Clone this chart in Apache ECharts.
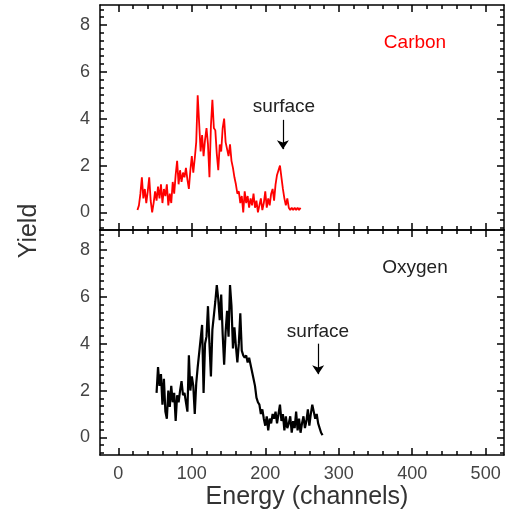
<!DOCTYPE html>
<html>
<head>
<meta charset="utf-8">
<script src="https://cdn.jsdelivr.net/npm/echarts@6/dist/echarts.min.js"></script>
<style>
  html, body { margin: 0; padding: 0; background: #fff; }
  #chart { width: 510px; height: 519px; }
</style>
</head>
<body>
<div id="chart"></div>
<script>
// carbon yield, one value every 2 channels starting at channel 26
const carbonStart = 26;
const carbonYield = [
  0.1, 0.3, 0.8, 1.5, 0.6, 1.0, 0.4, 0.9, 1.5, 0.5,
  0.0, 0.4, 0.9, 0.5, 1.1, 0.6, 1.2, 0.4, 1.0, 0.7,
  1.2, 0.3, 0.8, 0.4, 1.3, 0.8, 1.6, 2.2, 1.2, 1.8,
  1.3, 1.7, 1.5, 1.9, 1.4, 1.0, 1.8, 2.4, 1.7, 2.3,
  3.0, 5.0, 3.8, 2.6, 3.3, 2.4, 3.1, 3.6, 2.9, 1.5,
  3.7, 4.8, 3.6, 3.5, 2.5, 1.8, 2.9, 2.6, 3.6, 4.0,
  3.0, 2.7, 2.4, 2.9, 2.2, 1.9, 1.5, 1.2, 0.8, 0.9,
  0.4, 0.7, 0.0, 0.9, 0.4, 0.7, 0.2, 0.6, 0.3, 0.8,
  0.2, 0.5, 0.0, 0.3, 0.6, 0.1, 0.4, 0.9, 0.2, 0.6,
  0.3, 0.8, 1.0, 0.5, 1.2, 1.6, 1.8, 2.0, 1.5, 1.0,
  0.6, 0.3, 0.6, 0.2, 0.1, 0.2, 0.1, 0.2, 0.1, 0.2,
  0.1, 0.2
];

// oxygen yield, one value every 2 channels starting at channel 52
const oxygenStart = 52;
const oxygenYield = [
  1.9, 3.0, 2.2, 2.7, 1.4, 2.5, 1.1, 0.8, 2.0, 1.3,
  2.2, 1.5, 1.9, 0.7, 1.8, 1.5, 2.0, 2.4, 1.8, 1.9,
  1.5, 1.1, 3.5, 2.0, 2.6, 2.2, 1.0, 2.3, 3.0, 3.6,
  4.2, 4.8, 1.9, 4.0, 4.3, 5.6, 4.0, 2.6, 4.6, 5.2,
  5.8, 6.5, 5.9, 5.0, 6.1, 4.4, 3.1, 4.5, 5.4, 4.3,
  6.5, 5.6, 3.8, 4.7, 3.9, 3.2, 4.0, 5.3, 3.7, 3.5,
  3.4, 3.5, 3.2, 3.4, 3.1, 2.8, 2.5, 2.2, 1.7, 1.5,
  1.4, 1.0, 1.2, 0.8, 0.5, 0.9, 0.3, 0.8, 0.6, 1.0,
  0.8, 1.1, 0.6, 1.0, 1.4, 0.7, 1.0, 0.3, 0.9, 0.4,
  0.6, 0.9, 0.2, 0.7, 0.4, 1.1, 0.3, 0.8, 0.2, 0.6,
  0.9, 0.4, 0.7, 1.2, 0.5, 1.0, 1.4, 1.1, 0.8, 1.0,
  0.6, 0.4, 0.2, 0.1
];

// "surface" arrows: [channel, yield at tail, yield at tip]
const carbonSurfaceArrow = [224, 3.95, 2.7];
const oxygenSurfaceArrow = [272, 4.0, 2.7];

const xMajorTicks = [0, 100, 200, 300, 400, 500];
const yMajorTicks = [0, 2, 4, 6, 8];

const xMinorTicks = [];
for (let v = 20; v < 500; v += 20) if (v % 100) xMinorTicks.push(v);
const yMinorTicks = [];
for (let k = -2; k <= 26; k++) if (k % 6) yMinorTicks.push(k / 3);

const FONT = "'Liberation Sans', Arial, Helvetica, sans-serif";
const X_MIN = -25, X_MAX = 525;
const Y_MIN = -0.75, Y_MAX = 8.85;

const lineSt = { color: '#000', width: 1.5 };
const labelSt = { color: '#444', fontSize: 18, fontFamily: FONT };

function frameAxis(dim, grid, position, ticks, len, showLine, labels) {
  return {
    type: 'value',
    gridIndex: grid,
    position: position,
    min: dim === 'x' ? X_MIN : Y_MIN,
    max: dim === 'x' ? X_MAX : Y_MAX,
    splitLine: { show: false },
    axisLine: { show: showLine, onZero: false, lineStyle: lineSt },
    axisTick: { show: true, inside: true, length: len, customValues: ticks, lineStyle: lineSt },
    axisLabel: labels
      ? Object.assign({ show: true, customValues: ticks, margin: 10 }, labelSt)
      : { show: false }
  };
}

function xAxesFor(grid, withLabels) {
  return [
    frameAxis('x', grid, 'bottom', xMajorTicks, 7, true, withLabels),
    frameAxis('x', grid, 'bottom', xMinorTicks, 4, false, false),
    frameAxis('x', grid, 'top', xMajorTicks, 7, true, false),
    frameAxis('x', grid, 'top', xMinorTicks, 4, false, false)
  ];
}

function yAxesFor(grid) {
  return [
    frameAxis('y', grid, 'left', yMajorTicks, 7, true, true),
    frameAxis('y', grid, 'left', yMinorTicks, 4, false, false),
    frameAxis('y', grid, 'right', yMajorTicks, 7, true, false),
    frameAxis('y', grid, 'right', yMinorTicks, 4, false, false)
  ];
}

function arrow(a) {
  return {
    silent: true,
    symbol: ['none', 'arrow'],
    symbolSize: 9,
    label: { show: false },
    lineStyle: { color: '#000', width: 1.2, type: 'solid' },
    data: [[{ coord: [a[0], a[1]] }, { coord: [a[0], a[2]] }]]
  };
}

const chart = echarts.init(document.getElementById('chart'), null, { renderer: 'canvas' });

chart.setOption({
  animation: false,
  backgroundColor: '#fff',
  grid: [
    { left: 100, top: 5, width: 404, height: 225 },
    { left: 100, top: 230, width: 404, height: 225 }
  ],
  xAxis: xAxesFor(0, false).concat(xAxesFor(1, true)),
  yAxis: yAxesFor(0).concat(yAxesFor(1)),
  series: [
    {
      name: 'Carbon',
      type: 'line',
      xAxisIndex: 0,
      yAxisIndex: 0,
      symbol: 'none',
      data: carbonYield.map((v, i) => [carbonStart + 2 * i, v]),
      lineStyle: { color: '#ff0000', width: 1.8 },
      markLine: arrow(carbonSurfaceArrow)
    },
    {
      name: 'Oxygen',
      type: 'line',
      xAxisIndex: 4,
      yAxisIndex: 4,
      symbol: 'none',
      data: oxygenYield.map((v, i) => [oxygenStart + 2 * i, v]),
      lineStyle: { color: '#000', width: 2.2 },
      markLine: arrow(oxygenSurfaceArrow)
    }
  ],
  graphic: [
    { type: 'text', x: 415, y: 43, style: { text: 'Carbon', fill: '#ff0000', font: '19px ' + FONT, textAlign: 'center', textVerticalAlign: 'middle' } },
    { type: 'text', x: 284, y: 107, style: { text: 'surface', fill: '#222', font: '19px ' + FONT, textAlign: 'center', textVerticalAlign: 'middle' } },
    { type: 'text', x: 415, y: 268, style: { text: 'Oxygen', fill: '#222', font: '19px ' + FONT, textAlign: 'center', textVerticalAlign: 'middle' } },
    { type: 'text', x: 318, y: 332, style: { text: 'surface', fill: '#222', font: '19px ' + FONT, textAlign: 'center', textVerticalAlign: 'middle' } },
    { type: 'text', x: 307, y: 497, style: { text: 'Energy (channels)', fill: '#333', font: '25px ' + FONT, textAlign: 'center', textVerticalAlign: 'middle' } },
    { type: 'text', x: 29, y: 231, rotation: Math.PI / 2, style: { text: 'Yield', fill: '#333', font: '25px ' + FONT, textAlign: 'center', textVerticalAlign: 'middle' } }
  ]
});
</script>
</body>
</html>
